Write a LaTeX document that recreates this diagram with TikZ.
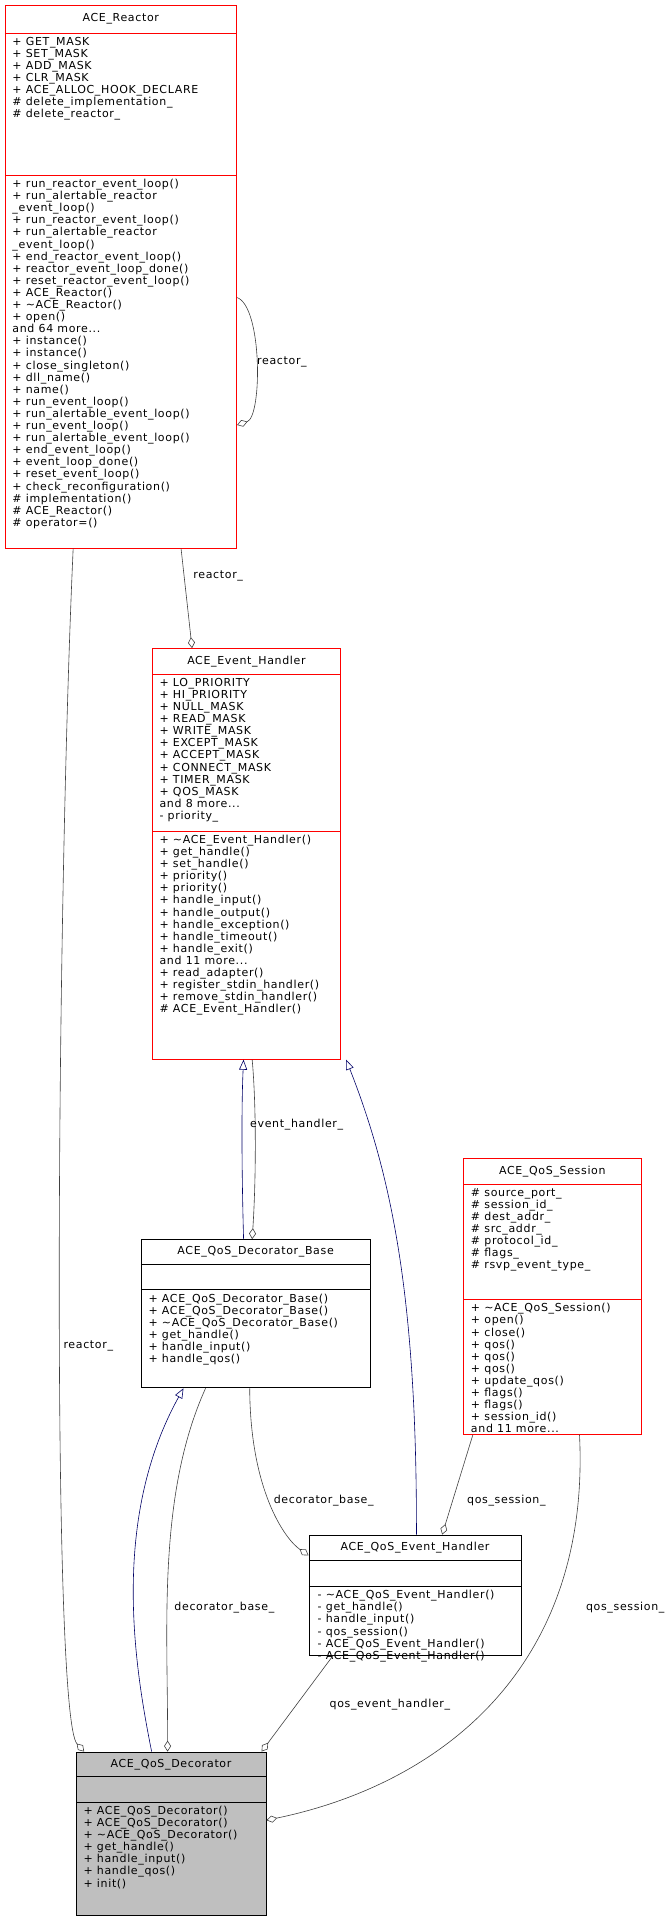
\documentclass[tikz,border=0pt]{standalone}
\usepackage{fontspec}
\setmainfont{DejaVu Sans}[LetterSpace=6]
\usetikzlibrary{fit,calc,arrows.meta}
\begin{document}
\begin{tikzpicture}[x=1.226pt,y=-1.226pt,
  boxred/.style={draw=red,fill=white,inner sep=0,line width=0.8pt},
  boxblk/.style={draw=black,fill=white,inner sep=0,line width=0.8pt},
  boxgry/.style={draw=black,fill=black!25,inner sep=0,line width=0.8pt},
  txt/.style={inner sep=0,font=\fontsize{11}{12}\selectfont},
  sec/.style={anchor=north west,align=left,inner sep=0,font=\fontsize{11}{12.1}\selectfont},
  comp/.style={draw=black!75,line width=0.6pt,-{Diamond[open,length=11pt,width=7pt]}},
  inh/.style={draw=blue!40!black,line width=0.6pt,-{Triangle[open,length=10pt,width=8pt]}},
  lbl/.style={inner sep=1pt,font=\fontsize{11}{12}\selectfont}]
\useasboundingbox (0,0) rectangle (548.1,1563.6);
\newcommand\umlclass[9]{%
 \node[#9, fit={(#2,#3)(#4,#5)}] (#1) {};
 \draw[#9] (#2,#6) -- (#4,#6) (#2,#7) -- (#4,#7);
 \node[txt] (#1-t) at ({(#2+#4)/2},{(#3+#6)/2}) {#8};}
\umlclass{reactor}{4}{4}{193}{447}{27}{143}{ACE\_Reactor}{boxred}
\node[sec] (reactor-a) at (10,30) {+ GET\_MASK\\+ SET\_MASK\\+ ADD\_MASK\\+ CLR\_MASK\\+ ACE\_ALLOC\_HOOK\_DECLARE\\\# delete\_implementation\_\\\# delete\_reactor\_};
\node[sec] (reactor-m) at (10,146) {+ run\_reactor\_event\_loop()\\+ run\_alertable\_reactor\\\_event\_loop()\\+ run\_reactor\_event\_loop()\\+ run\_alertable\_reactor\\\_event\_loop()\\+ end\_reactor\_event\_loop()\\+ reactor\_event\_loop\_done()\\+ reset\_reactor\_event\_loop()\\+ ACE\_Reactor()\\+ \textasciitilde ACE\_Reactor()\\+ open()\\and 64 more...\\+ instance()\\+ instance()\\+ close\_singleton()\\+ dll\_name()\\+ name()\\+ run\_event\_loop()\\+ run\_alertable\_event\_loop()\\+ run\_event\_loop()\\+ run\_alertable\_event\_loop()\\+ end\_event\_loop()\\+ event\_loop\_done()\\+ reset\_event\_loop()\\+ check\_reconfiguration()\\\# implementation()\\\# ACE\_Reactor()\\\# operator=()};
\umlclass{eh}{124}{529}{278}{864}{550}{678}{ACE\_Event\_Handler}{boxred}
\node[sec] (eh-a) at (130,553) {+ LO\_PRIORITY\\+ HI\_PRIORITY\\+ NULL\_MASK\\+ READ\_MASK\\+ WRITE\_MASK\\+ EXCEPT\_MASK\\+ ACCEPT\_MASK\\+ CONNECT\_MASK\\+ TIMER\_MASK\\+ QOS\_MASK\\and 8 more...\\- priority\_};
\node[sec] (eh-m) at (130,681) {+ \textasciitilde ACE\_Event\_Handler()\\+ get\_handle()\\+ set\_handle()\\+ priority()\\+ priority()\\+ handle\_input()\\+ handle\_output()\\+ handle\_exception()\\+ handle\_timeout()\\+ handle\_exit()\\and 11 more...\\+ read\_adapter()\\+ register\_stdin\_handler()\\+ remove\_stdin\_handler()\\\# ACE\_Event\_Handler()};
\umlclass{sess}{378}{945}{523}{1170}{966}{1060}{ACE\_QoS\_Session}{boxred}
\node[sec] (sess-a) at (384,969) {\# source\_port\_\\\# session\_id\_\\\# dest\_addr\_\\\# src\_addr\_\\\# protocol\_id\_\\\# flags\_\\\# rsvp\_event\_type\_};
\node[sec] (sess-m) at (384,1063) {+ \textasciitilde ACE\_QoS\_Session()\\+ open()\\+ close()\\+ qos()\\+ qos()\\+ qos()\\+ update\_qos()\\+ flags()\\+ flags()\\+ session\_id()\\and 11 more...};
\umlclass{base}{115}{1011}{302}{1132}{1031}{1052}{ACE\_QoS\_Decorator\_Base}{boxblk}
\node[sec] (base-m) at (121,1055) {+ ACE\_QoS\_Decorator\_Base()\\+ ACE\_QoS\_Decorator\_Base()\\+ \textasciitilde ACE\_QoS\_Decorator\_Base()\\+ get\_handle()\\+ handle\_input()\\+ handle\_qos()};
\umlclass{qeh}{252}{1252}{425}{1350}{1273}{1294}{ACE\_QoS\_Event\_Handler}{boxblk}
\node[sec] (qeh-m) at (259,1297) {- \textasciitilde ACE\_QoS\_Event\_Handler()\\- get\_handle()\\- handle\_input()\\- qos\_session()\\- ACE\_QoS\_Event\_Handler()\\- ACE\_QoS\_Event\_Handler()};
\umlclass{dec}{62}{1429}{217}{1562}{1449}{1470}{ACE\_QoS\_Decorator}{boxgry}
\node[sec] (dec-m) at (68,1473) {+ ACE\_QoS\_Decorator()\\+ ACE\_QoS\_Decorator()\\+ \textasciitilde ACE\_QoS\_Decorator()\\+ get\_handle()\\+ handle\_input()\\+ handle\_qos()\\+ init()};
% connectors
\draw[comp] ($(reactor.south west)+(144,0)$) -- ($(eh.north west)+(33,0)$);
\draw[comp] ($(reactor.north east)+(0,239)$) .. controls (214,250) and (214,340) .. ($(reactor.north east)+(0,343)$);
\node[lbl] (l1) at (230,295) {reactor\_};
\node[lbl] (l2) at (178,470) {reactor\_};
\draw[inh] ($(base.north west)+(84,0)$) .. controls (197,950) and (197,900) .. ($(eh.south west)+(75,0)$);
\draw[comp] ($(eh.south west)+(82,0)$) .. controls (209,900) and (209,960) .. ($(base.north west)+(91,0)$);
\node[lbl] (l3) at (242,917) {event\_handler\_};
\draw[inh] ($(qeh.north west)+(88,0)$) .. controls (340,1060) and (320,960) .. ($(eh.south east)+(4,0)$);
\draw[comp] ($(base.south west)+(89,0)$) .. controls (204,1215) and (232,1255) .. ($(qeh.north west)+(0,17)$);
\node[lbl] (l4) at (264,1224) {decorator\_base\_};
\draw[comp] ($(sess.south west)+(8,0)$) -- ($(qeh.north west)+(109,0)$);
\node[lbl] (l5) at (413,1224) {qos\_session\_};
\draw[inh] ($(dec.north west)+(62,0)$) .. controls (110,1360) and (90,1240) .. ($(base.south west)+(35,0)$);
\draw[comp] ($(base.south west)+(53,0)$) .. controls (128,1220) and (137,1330) .. ($(dec.north west)+(75,0)$);
\node[lbl] (l6) at (183,1311) {decorator\_base\_};
\draw[comp] ($(reactor.south west)+(56,0)$) .. controls (46,750) and (42,1400) .. ($(dec.north west)+(7,0)$);
\node[lbl] (l7) at (72,1098) {reactor\_};
\draw[comp] ($(qeh.south west)+(20,0)$) -- ($(dec.north east)+(-4,0)$);
\node[lbl] (l8) at (318,1390) {qos\_event\_handler\_};
\draw[comp] ($(sess.south west)+(95,0)$) .. controls (482,1360) and (360,1455) .. ($(dec.north east)+(0,56)$);
\node[lbl] (l9) at (510,1311) {qos\_session\_};
\end{tikzpicture}
\end{document}
